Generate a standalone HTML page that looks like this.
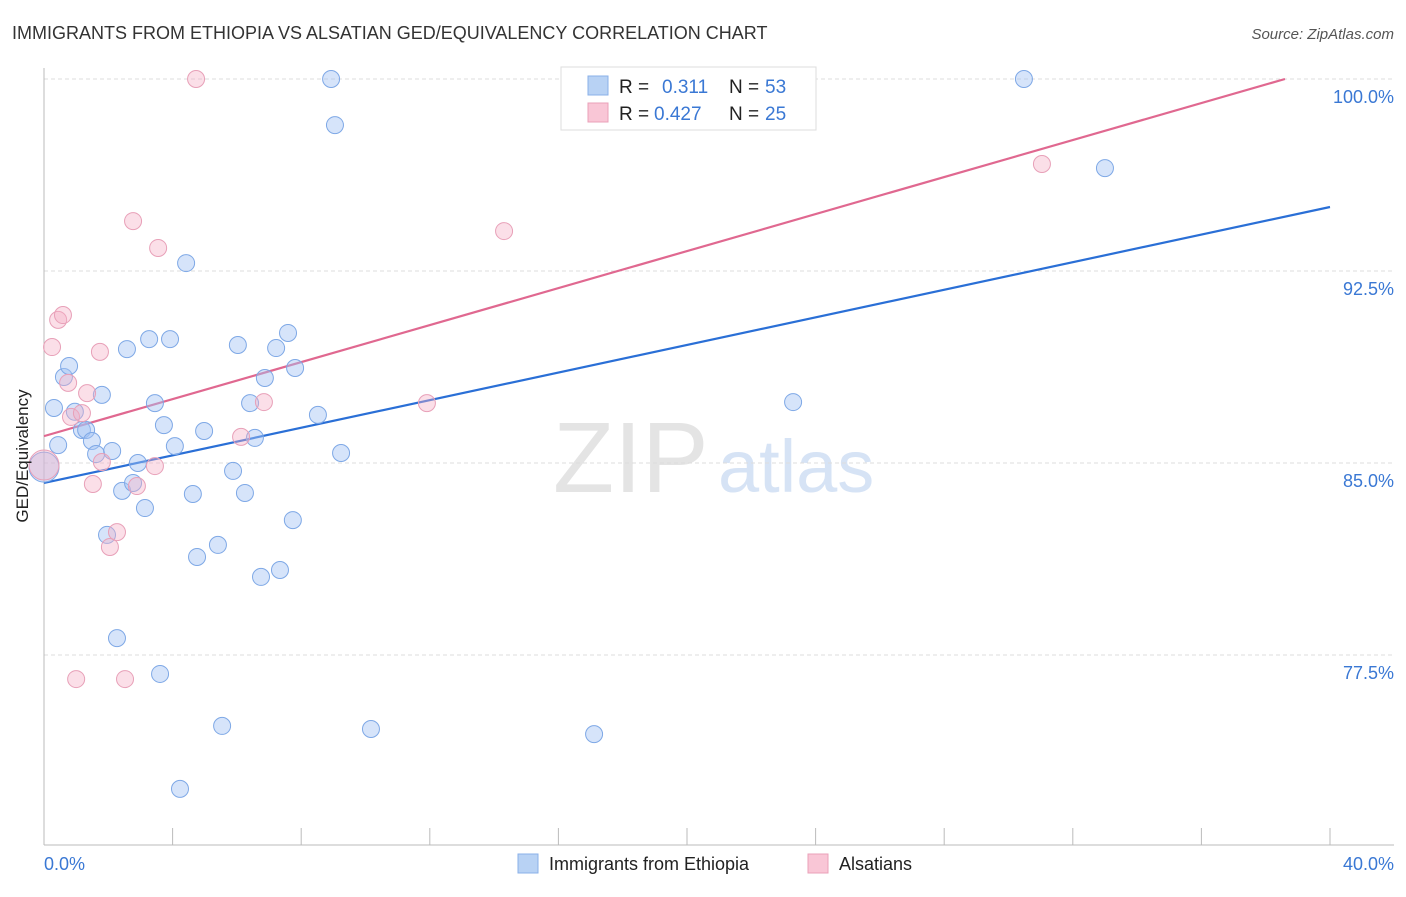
<!DOCTYPE html>
<html><head><meta charset="utf-8"><style>
body{margin:0;background:#fff;font-family:"Liberation Sans",sans-serif;}
svg text{font-family:"Liberation Sans",sans-serif;}
</style></head><body>
<svg id="chart" width="1406" height="892">
<text x="12" y="39" font-size="18" fill="#333">IMMIGRANTS FROM ETHIOPIA VS ALSATIAN GED/EQUIVALENCY CORRELATION CHART</text>
<text x="1394" y="39" font-size="15" fill="#555" font-style="italic" text-anchor="end">Source: ZipAtlas.com</text>
<g>
<text x="553" y="492" font-size="100" fill="#e4e4e4" font-family="Liberation Serif">ZIP</text>
<text x="718" y="492" font-size="74" fill="#d6e3f5">atlas</text>
</g>
<g id="grid"></g><g id="axes"></g><g id="lines"></g><g id="pts"></g>
<text transform="translate(34,456) rotate(-90)" font-size="17" fill="#222" text-anchor="middle" dy="-6">GED/Equivalency</text>
<text x="44" y="870" font-size="18" fill="#3a78d4">0.0%</text>
<text x="1394" y="870" font-size="18" fill="#3a78d4" text-anchor="end">40.0%</text>
<g>
<rect x="561" y="67" width="255" height="63" fill="#fff" stroke="#ddd"/>
<rect x="588" y="76" width="20" height="19" fill="#b8d2f4" stroke="#8ab0e8"/>
<rect x="588" y="103" width="20" height="19" fill="#f9c6d6" stroke="#eaa0b8"/>
<text x="619" y="93" font-size="19" fill="#222">R =</text><text x="662" y="93" font-size="19" fill="#3a78d4">0.311</text>
<text x="729" y="93" font-size="19" fill="#222">N =</text><text x="765" y="93" font-size="19" fill="#3a78d4">53</text>
<text x="619" y="120" font-size="19" fill="#222">R =</text><text x="654" y="120" font-size="19" fill="#3a78d4">0.427</text>
<text x="729" y="120" font-size="19" fill="#222">N =</text><text x="765" y="120" font-size="19" fill="#3a78d4">25</text>
</g>
<g>
<rect x="518" y="854" width="20" height="19" fill="#b8d2f4" stroke="#8ab0e8"/>
<text x="549" y="870" font-size="18" fill="#222">Immigrants from Ethiopia</text>
<rect x="808" y="854" width="20" height="19" fill="#f9c6d6" stroke="#eaa0b8"/>
<text x="839" y="870" font-size="18" fill="#222">Alsatians</text>
</g>
</svg>
<script>
const yTicks=[100,92.5,85,77.5];
const xTicks=[0,4,8,12,16,20,24,28,32,36,40];
const blueX=[0,0.44,0.31,0.62,0.78,0.96,1.18,1.31,1.49,1.62,1.80,2.12,1.96,2.27,2.43,2.58,2.77,2.92,3.14,3.27,3.45,3.61,3.73,3.92,4.07,4.42,4.63,4.76,4.98,5.41,5.54,4.23,5.88,6.03,6.25,6.41,6.56,6.75,6.87,7.22,7.34,7.59,7.74,7.81,8.52,8.93,9.05,9.24,10.17,17.11,23.30,30.48,33.0];
const blueY=[84.84,85.70,87.15,88.36,88.79,87.0,86.29,86.29,85.86,85.35,87.66,85.47,82.19,78.16,83.91,89.45,84.22,85.0,83.24,89.84,87.34,76.76,86.48,89.84,85.66,92.81,83.79,81.33,86.25,81.80,74.73,72.27,84.69,89.61,83.83,87.34,85.98,80.55,88.32,89.49,80.82,90.08,82.77,88.71,86.88,100,98.2,85.39,74.61,74.41,87.38,100,96.52];
const pinkX=[0,0.25,0.44,0.59,0.75,0.84,1.0,1.18,1.34,1.52,1.74,1.80,2.05,2.27,2.52,2.77,2.89,3.45,3.55,4.73,6.13,6.84,11.91,14.31,31.04];
const pinkY=[84.92,89.53,90.59,90.78,88.13,86.80,76.56,86.95,87.73,84.18,89.34,85.04,81.72,82.30,76.56,94.45,84.10,84.88,93.40,100,86.02,87.38,87.34,94.06,96.68];
const blueLine=[[0,84.22],[40,95.0]];
const pinkLine=[[0,86.05],[38.6,100]];
const NS='http://www.w3.org/2000/svg';
const sx=v=>44+v*32.15, sy=v=>79+(100-v)*25.6;
function mk(tag,attrs,parent){const e=document.createElementNS(NS,tag);for(const k in attrs)e.setAttribute(k,attrs[k]);document.getElementById(parent).appendChild(e);return e;}
yTicks.forEach(t=>{
 const l=mk('line',{x1:44,x2:1394,y1:sy(t),y2:sy(t),stroke:'#ddd','stroke-dasharray':'4,3'},'grid');
 
 
 const tx=mk('text',{x:1394,y:sy(t)+24,'font-size':18,fill:'#3a78d4','text-anchor':'end'},'grid');
 tx.textContent=t.toFixed(1)+'%';
 
 
});
mk('line',{x1:44,x2:44,y1:68,y2:845,stroke:'#bbb'},'axes');
mk('line',{x1:44,x2:1394,y1:845,y2:845,stroke:'#bbb'},'axes');
xTicks.forEach(t=>{
 const l=mk('line',{x1:sx(t),x2:sx(t),y1:828,y2:845,stroke:'#bbb'},'axes');
 
 
});
[[blueLine,'#2a6fd6','blue-trend-line'],[pinkLine,'#e06890','pink-trend-line']].forEach(([d,c,n])=>{
 const l=mk('line',{x1:sx(d[0][0]),y1:sy(d[0][1]),x2:sx(d[1][0]),y2:sy(d[1][1]),stroke:c,'stroke-width':2.2},'lines');
 
 
});
function pts(X,Y,fill,stroke,name){
 X.forEach((x,i)=>{
  const r=i===0?15:8.5;
  const c=mk('circle',{cx:sx(x),cy:sy(Y[i]),r:r,fill:fill,stroke:stroke,'stroke-width':1},'pts');
  
  
 });
}
pts(blueX,blueY,'rgba(164,196,244,0.45)','#7ea8e6','ethiopia-point');
pts(pinkX,pinkY,'rgba(246,175,198,0.4)','#e8a0b8','alsatian-point');
</script>
</body></html>
